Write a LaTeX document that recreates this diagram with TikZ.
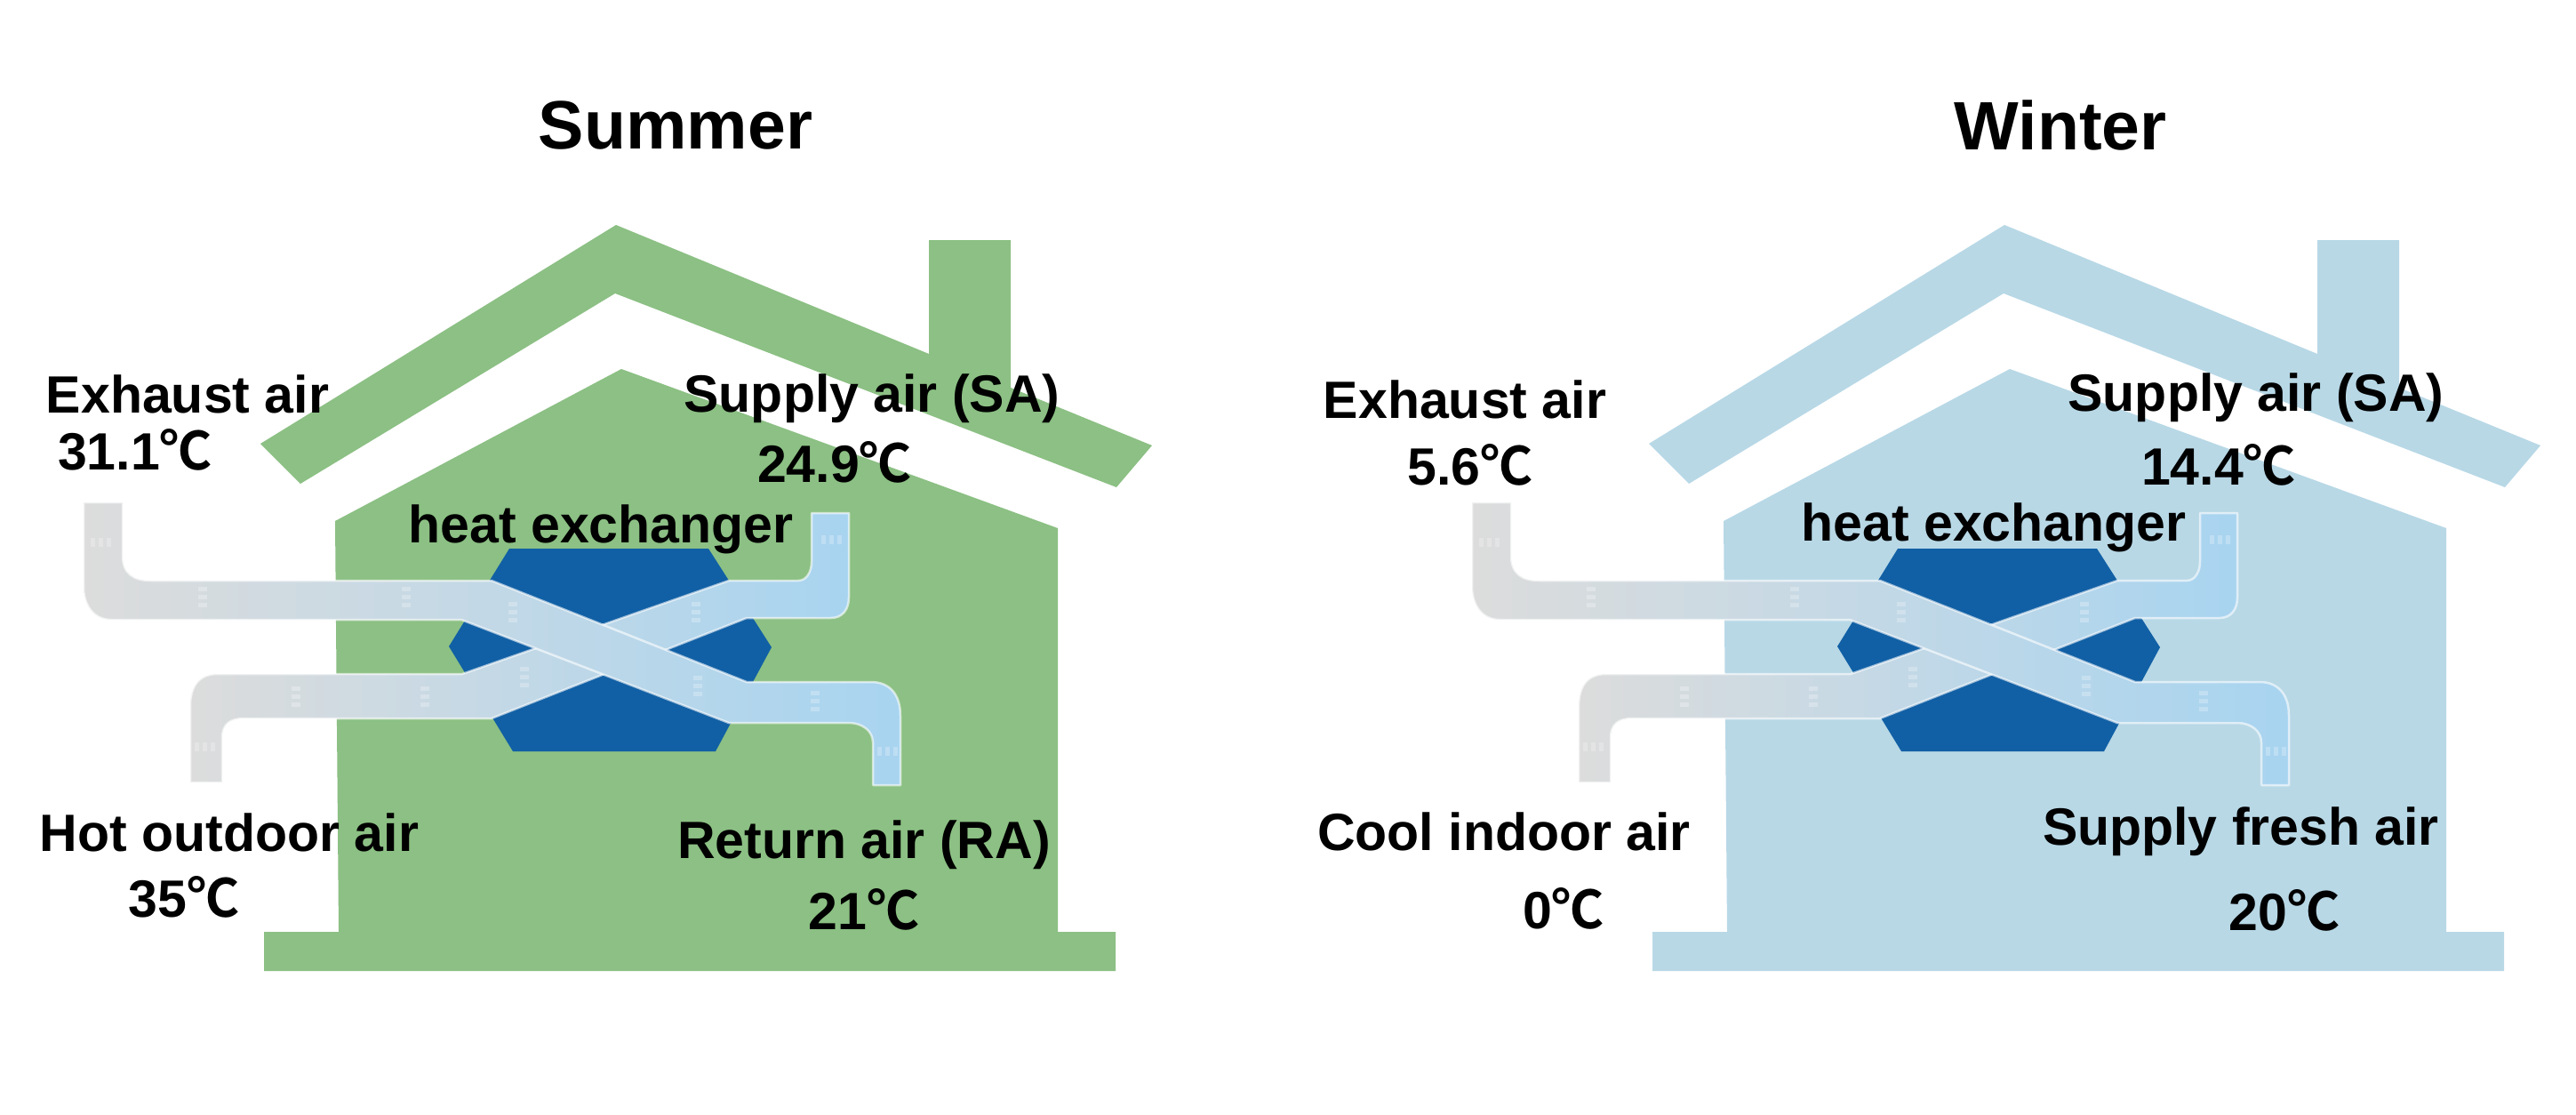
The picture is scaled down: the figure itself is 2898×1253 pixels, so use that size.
\documentclass[tikz,border=0pt]{standalone}
\usepackage{fontspec}
\setmainfont{Liberation Sans}
\newfontfamily\cjk{Noto Sans CJK SC}[BoldFont={* Bold}]
\usetikzlibrary{calc}
\definecolor{sumhouse}{HTML}{8CC084}
\definecolor{winhouse}{HTML}{B8D8E6}
\definecolor{hexblue}{HTML}{1160A5}
\definecolor{ductgray}{HTML}{DCDCDC}
\definecolor{ductmid}{HTML}{C3D9E6}
\definecolor{ductblue}{HTML}{A8D4F0}
\newcommand{\degc}{{\cjk ℃}}
\tikzset{
  lab/.style={font=\fontsize{59}{68}\selectfont\bfseries, text=black, inner sep=0pt, anchor=center},
  ttl/.style={font=\fontsize{77}{88}\selectfont\bfseries, text=black, inner sep=0pt, anchor=center},
  duct/.style={shade, left color=ductgray, middle color=ductmid, right color=ductblue, draw=white, draw opacity=.6, line width=2.5pt, line join=round},
  flowmark/.style={draw=white, draw opacity=.25, line width=10pt, dash pattern=on 5pt off 4pt}
}
\newcommand{\ductpanel}[1]{%
  \fill[#1] (693,253) -- (1045,398) -- (1045,270) -- (1137,270) -- (1137,436) -- (1296,501) -- (1256,548) -- (692,330) -- (338,544) -- (293,499) -- cycle;
  \fill[#1] (699,415) -- (1190,594) -- (1190,1048) -- (1255,1048) -- (1255,1092) -- (297,1092) -- (297,1048) -- (381,1048) -- (377,586) -- cycle;
  \fill[hexblue] (573,617) -- (797,617) -- (868,728) -- (805,845) -- (577,845) -- (505,727) -- cycle;
  \path[duct] (214,880) -- (250,880) -- (250,830) .. controls (250,815) and (258,808) .. (275,808) -- (553,808) -- (840,695) -- (935,695) .. controls (948,695) and (955,685) .. (955,672) -- (955,577) -- (913,577) -- (913,632) .. controls (913,642) and (908,653) .. (898,653) -- (820,653) -- (520,758) -- (245,758) .. controls (225,758) and (214,770) .. (214,795) -- cycle;
  \path[duct] (94,565) -- (138,565) -- (138,625) .. controls (138,645) and (150,653) .. (170,653) -- (553,653) -- (840,767) -- (980,767) .. controls (1000,767) and (1013,780) .. (1013,805) -- (1013,883) -- (982,883) -- (982,835) .. controls (982,822) and (970,813) .. (955,813) -- (820,813) -- (519,697) -- (125,697) .. controls (105,697) and (94,680) .. (94,660) -- cycle;
  \foreach \x/\y in {228/673,457/673,577/690,785/773,917/790,333/785,478/785,590/763,783/690}
    \draw[flowmark] (\x,\y-13) -- (\x,\y+13);
  \foreach \x/\y in {115/610,1000/845,937/607,232/840}
    \draw[flowmark] (\x-13,\y) -- (\x+13,\y);
}
\begin{document}
\begin{tikzpicture}[x=1pt,y=-1pt]
\useasboundingbox (0,0) rectangle (2898,1253);
\fill[white] (0,0) rectangle (2898,1253);
\ductpanel{sumhouse}
\begin{scope}[xshift=1562pt]
\ductpanel{winhouse}
\end{scope}
\node[ttl] (tsum) at (760,141) {Summer};
\node[ttl] (twin) at (2318,141) {Winter};
\node[lab] (a1) at (211,443) {Exhaust air};
\node[lab] (a2) at (152,506) {31.1\degc};
\node[lab] (a3) at (981,448) {Supply air (SA)};
\node[lab] (a4) at (939,520) {24.9\degc};
\node[lab] (a5) at (676,595) {heat exchanger};
\node[lab] (a6) at (258,936) {Hot outdoor air};
\node[lab] (a7) at (207,1009) {35\degc};
\node[lab] (a8) at (972,950) {Return air (RA)};
\node[lab] (a9) at (972,1023) {21\degc};
\node[lab] (b1) at (1648,449) {Exhaust air};
\node[lab] (b2) at (1654,523) {5.6\degc};
\node[lab] (b3) at (2538,447) {Supply air (SA)};
\node[lab] (b4) at (2496,523) {14.4\degc};
\node[lab] (b5) at (2243,593) {heat exchanger};
\node[lab] (b6) at (1692,935) {Cool indoor air};
\node[lab] (b7) at (1759,1022) {0\degc};
\node[lab] (b8) at (2521,935) {Supply fresh air};
\node[lab] (b9) at (2570,1024) {20\degc};
\end{tikzpicture}
\end{document}
